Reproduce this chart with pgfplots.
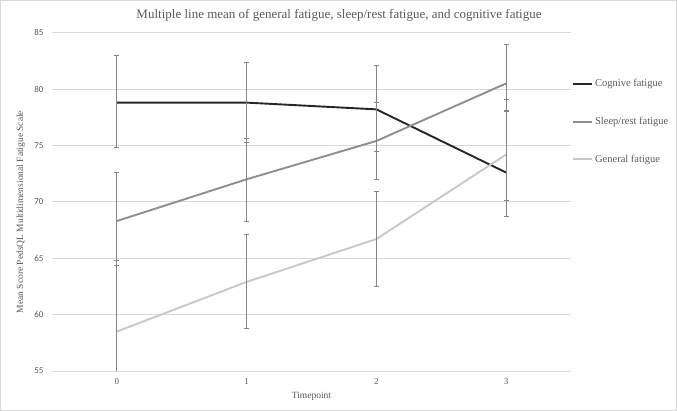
\documentclass[border=0pt]{standalone}
\usepackage{pgfplots}
\pgfplotsset{compat=1.18}
\usepackage{fontspec}
\setmainfont{Liberation Serif}
\newfontfamily\numfont{Carlito}
\definecolor{cogn}{HTML}{262626}
\definecolor{sleepc}{HTML}{8E8E8E}
\definecolor{genc}{HTML}{C8C8C8}
\definecolor{errc}{HTML}{858585}
\definecolor{gridc}{HTML}{D9D9D9}
\definecolor{txtc}{HTML}{595959}
\definecolor{framec}{HTML}{D9D9D9}

% x, mean, upper, lower error
\pgfplotstableread{
x y ep em
0 78.8 4.15 4.0
1 78.8 3.6 3.5
2 78.2 3.9 3.75
3 72.6 6.45 3.9
}\cognitive
\pgfplotstableread{
x y ep em
0 68.3 4.3 3.9
1 72.0 3.65 3.7
2 75.4 3.4 3.4
3 80.5 3.45 2.5
}\sleeprest
\pgfplotstableread{
x y ep em
0 58.5 6.3 6.3
1 62.9 4.2 4.1
2 66.7 4.2 4.2
3 74.2 3.95 4.1
}\general

\begin{document}
\begin{tikzpicture}[x=1pt,y=1pt]
\path[use as bounding box] (0,0) rectangle (677,411);
\draw[framec, line width=0.75pt] (0.5,0.5) rectangle (676.5,410.5);
\begin{axis}[at={(52pt,40pt)}, anchor=south west, scale only axis,
  width=519pt, height=338.3pt,
  xmin=-0.5, xmax=3.5, ymin=55, ymax=85,
  xtick={0,1,2,3}, ytick={55,60,...,85},
  axis line style={draw=none}, major tick length=0pt,
  ymajorgrids, grid style={gridc, line width=0.75pt},
  ticklabel style={txtc},
  xticklabel style={font=\fontsize{9}{10}\selectfont, yshift=-4pt},
  yticklabel style={font=\numfont\fontsize{9}{10}\selectfont, xshift=-5pt},
  /pgf/number format/assume math mode=true,
  xlabel={Timepoint}, ylabel={Mean Score PedsQL Multidimensional Fatigue Scale},
  label style={txtc, font=\fontsize{9.5}{11}\selectfont},
  xlabel style={at={(axis description cs:0.5,-0.074)}, anchor=center},
  ylabel style={at={(axis description cs:-0.06,0.47)}, anchor=center},
  title={Multiple line mean of general fatigue, sleep/rest fatigue, and cognitive fatigue},
  title style={txtc, font=\fontsize{13}{15}\selectfont, at={(axis description cs:0.553,1.034)}, anchor=center},
  legend style={draw=none, fill=none, at={(axis description cs:1.002,0.869)}, anchor=north west,
    font=\fontsize{10.5}{12}\selectfont, text=txtc, row sep=25pt, inner sep=0pt,
    /tikz/every even column/.append style={column sep=0pt}},
  legend cell align=left,
  legend image code/.code={\draw[#1] (0pt,0pt) -- (19pt,0pt);},
  error bars/error bar style={errc, line width=0.8pt},
  error bars/error mark options={errc, rotate=90, mark size=2.5pt, line width=0.8pt},
]
\addplot[cogn, line width=1.9pt, no markers, error bars/.cd, y dir=both, y explicit]
  table[x=x, y=y, y error plus=ep, y error minus=em] {\cognitive};
\addplot[sleepc, line width=1.9pt, no markers, error bars/.cd, y dir=both, y explicit]
  table[x=x, y=y, y error plus=ep, y error minus=em] {\sleeprest};
\addplot[genc, line width=1.9pt, no markers, error bars/.cd, y dir=both, y explicit]
  table[x=x, y=y, y error plus=ep, y error minus=em] {\general};
\legend{Cognive fatigue, Sleep/rest fatigue, General fatigue}
\end{axis}
\end{tikzpicture}
\end{document}
